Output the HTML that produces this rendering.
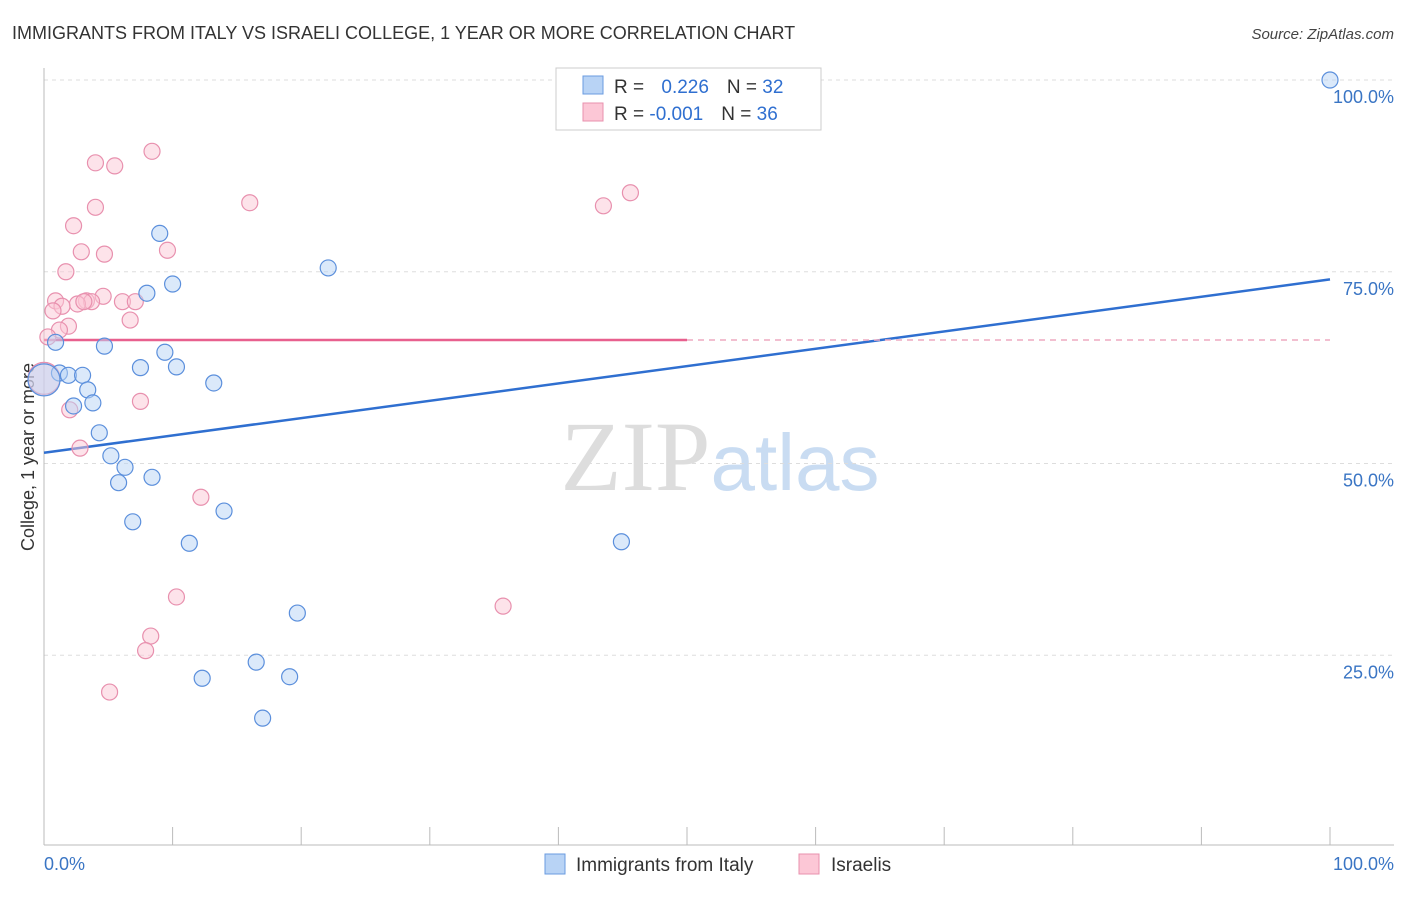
<!DOCTYPE html>
<html><head><meta charset="utf-8"><style>
body{margin:0;background:#fff;font-family:"Liberation Sans",sans-serif}
</style></head><body>
<svg width="1406" height="892" xmlns="http://www.w3.org/2000/svg" font-family="Liberation Sans, sans-serif">
<text x="12" y="39" font-size="18" fill="#333">IMMIGRANTS FROM ITALY VS ISRAELI COLLEGE, 1 YEAR OR MORE CORRELATION CHART</text>
<text x="1394" y="39" font-size="15" fill="#444" text-anchor="end" font-style="italic">Source: ZipAtlas.com</text>
<text x="720" y="490" font-size="100" text-anchor="middle"><tspan fill="#ddd" font-family="Liberation Serif, serif">ZIP</tspan><tspan fill="#c9dcf2" font-size="80">atlas</tspan></text>
<g id="grid"></g>
<line x1="44" y1="845" x2="1394" y2="845" stroke="#bbb"/>
<line x1="44" y1="68" x2="44" y2="845" stroke="#bbb"/>
<g id="ticks"></g>
<text transform="translate(34,457) rotate(-90)" font-size="18" fill="#333" text-anchor="middle">College, 1 year or more</text>
<text x="44" y="870" font-size="18" fill="#3a75c4">0.0%</text>
<text x="1394" y="870" font-size="18" fill="#3a75c4" text-anchor="end">100.0%</text>
<g id="lines"></g>
<g id="points"></g>
<g>
<rect x="556" y="68" width="265" height="62" fill="#fff" stroke="#ccc"/>
<rect x="583" y="76" width="20" height="18" fill="#b8d3f5" stroke="#6a9be0"/>
<rect x="583" y="103" width="20" height="18" fill="#fcc7d6" stroke="#e890ae"/>
<text x="614" y="93" font-size="19" fill="#333">R = <tspan fill="#2f6fd0" dx="12">0.226</tspan><tspan dx="18">N = </tspan><tspan fill="#2f6fd0">32</tspan></text>
<text x="614" y="120" font-size="19" fill="#333">R = <tspan fill="#2f6fd0">-0.001</tspan><tspan dx="18">N = </tspan><tspan fill="#2f6fd0">36</tspan></text>
</g>
<g><rect x="545" y="854" width="20" height="20" fill="#b8d3f5" stroke="#6a9be0"/><text x="576" y="871" font-size="19" fill="#333">Immigrants from Italy</text></g>
<g><rect x="799" y="854" width="20" height="20" fill="#fcc7d6" stroke="#e890ae"/><text x="831" y="871" font-size="19" fill="#333">Israelis</text></g>
</svg>
<script>
const yTicks=[25,50,75,100];
const yTickLabels=["25.0%","50.0%","75.0%","100.0%"];
const blueX=[100,9.0,22.1,10.0,8.0,0.9,4.7,9.4,7.5,10.3,1.2,1.9,3.0,13.2,0,3.4,3.8,2.3,4.3,5.2,6.3,8.4,5.8,14.0,6.9,11.3,44.9,19.7,16.5,12.3,19.1,17.0];
const blueY=[100,80.0,75.5,73.4,72.2,65.8,65.3,64.5,62.5,62.6,61.8,61.5,61.5,60.5,60.9,59.6,57.9,57.5,54.0,51.0,49.5,48.2,47.5,43.8,42.4,39.6,39.8,30.5,24.1,22.0,22.2,16.8];
const pinkX=[8.4,4.0,5.5,45.6,16.0,43.5,4.0,2.3,9.6,2.9,4.7,1.7,4.6,0.9,6.1,7.1,3.3,3.7,2.6,1.4,0.7,6.7,1.9,1.2,0.3,0,7.5,2.0,2.8,12.2,10.3,35.7,8.3,7.9,5.1,3.1];
const pinkY=[90.7,89.2,88.8,85.3,84.0,83.6,83.4,81.0,77.8,77.6,77.3,75.0,71.8,71.2,71.1,71.1,71.2,71.1,70.8,70.5,69.9,68.7,67.9,67.4,66.5,61.1,58.1,57.0,52.0,45.6,32.6,31.4,27.5,25.6,20.2,71.1];
const blueTrend=[51.4,74.0];
const pinkTrend=[66.1,66.1];
const NS="http://www.w3.org/2000/svg";
const sx=v=>44+v*12.86, sy=v=>847-v*7.67;
function mk(t,a,p){const e=document.createElementNS(NS,t);for(const k in a)e.setAttribute(k,a[k]);document.getElementById(p).appendChild(e);return e;}
yTicks.forEach((t,i)=>{
 const g=mk('line',{x1:44,x2:1394,y1:sy(t),y2:sy(t),stroke:'#ddd','stroke-dasharray':'4,4'},'grid');
 
 
 const l=mk('text',{x:1394,y:sy(t)+23,'font-size':18,fill:'#3a75c4','text-anchor':'end'},'grid');
 l.textContent=yTickLabels[i];
 
 
});
for(let i=1;i<=10;i++){
 const t=mk('line',{x1:sx(i*10),x2:sx(i*10),y1:827,y2:845,stroke:'#bbb'},'ticks');
 
 
}
const bl=mk('line',{x1:sx(0),y1:sy(blueTrend[0]),x2:sx(100),y2:sy(blueTrend[1]),stroke:'#2f6fd0','stroke-width':2.5},'lines');


const p1=mk('line',{x1:sx(0),y1:sy(pinkTrend[0]),x2:sx(50),y2:sy((pinkTrend[0]+pinkTrend[1])/2),stroke:'#e8608e','stroke-width':2.5},'lines');


const p2=mk('line',{x1:sx(50),y1:sy((pinkTrend[0]+pinkTrend[1])/2),x2:sx(100),y2:sy(pinkTrend[1]),stroke:'#eeaac0','stroke-width':1.5,'stroke-dasharray':'6,5'},'lines');


function pts(X,Y,fill,stroke,name){X.forEach((x,i)=>{
 const r=(x===0)?16:8;
 const c=mk('circle',{cx:sx(x),cy:sy(Y[i]),r:r,fill:fill,stroke:stroke,'stroke-width':1.2,'fill-opacity':0.5},'points');
 
 
});}
pts(pinkX,pinkY,'#fcc7d6','#e890ae','israelis-point');
pts(blueX,blueY,'#b8d3f5','#5b8fdc','italy-point');
</script>
</body></html>
